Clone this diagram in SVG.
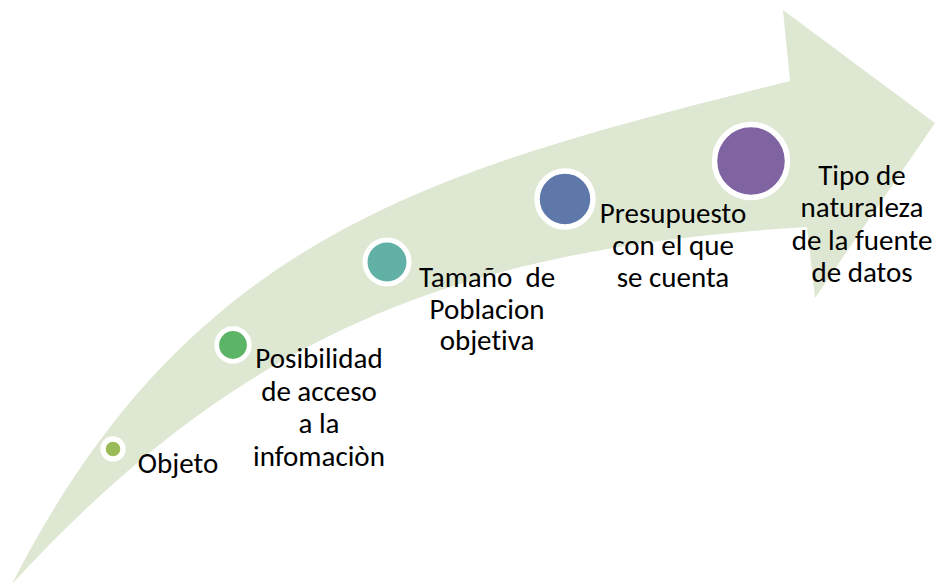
<svg xmlns="http://www.w3.org/2000/svg" width="936" height="585" viewBox="0 0 936 585">
<style>
.lbl{font-family:Carlito,Lato,"Liberation Sans",sans-serif;font-size:29px;fill:#000;text-anchor:middle;font-variant-ligatures:none}
.ring{stroke:#fff}
</style>
<rect width="936" height="585" fill="#fff"/>
<g id="arrow">
<path d="M12,584 C190,235 431,170 790,81 L783,10 L935,123 L815,298 L807,227 C457,248 242,334 12,584 Z" fill="#dee7d1"/>
</g>
<g id="connectors"></g>
<g id="n1">
<circle class="ring" cx="113" cy="449" r="10" fill="#9bbb59" stroke-width="5.4"/>
<text class="lbl" x="178" y="473">Objeto</text>
</g>
<g id="n2">
<circle class="ring" cx="233" cy="345" r="16.3" fill="#5cb467" stroke-width="4.8"/>
<text class="lbl" x="319" y="368">Posibilidad</text>
<text class="lbl" x="319" y="400.5">de acceso</text>
<text class="lbl" x="319" y="433">a la</text>
<text class="lbl" x="319" y="465.5">infomaciòn</text>
</g>
<g id="n3">
<circle class="ring" cx="387" cy="262" r="22" fill="#62b1a6" stroke-width="5"/>
<text class="lbl" x="487" y="287" xml:space="preserve">Tamaño  de</text>
<text class="lbl" x="487" y="318.5">Poblacion</text>
<text class="lbl" x="487" y="350">objetiva</text>
</g>
<g id="n4">
<circle class="ring" cx="565" cy="199" r="28" fill="#5e78a9" stroke-width="5.5"/>
<text class="lbl" x="673" y="223">Presupuesto</text>
<text class="lbl" x="673" y="255">con el que</text>
<text class="lbl" x="673" y="287">se cuenta</text>
</g>
<g id="n5">
<circle class="ring" cx="751" cy="161" r="36.5" fill="#8064a2" stroke-width="5.5"/>
<text class="lbl" x="862" y="185">Tipo de</text>
<text class="lbl" x="862" y="217">naturaleza</text>
<text class="lbl" x="862" y="250">de la fuente</text>
<text class="lbl" x="862" y="282">de datos</text>
</g>
</svg>
